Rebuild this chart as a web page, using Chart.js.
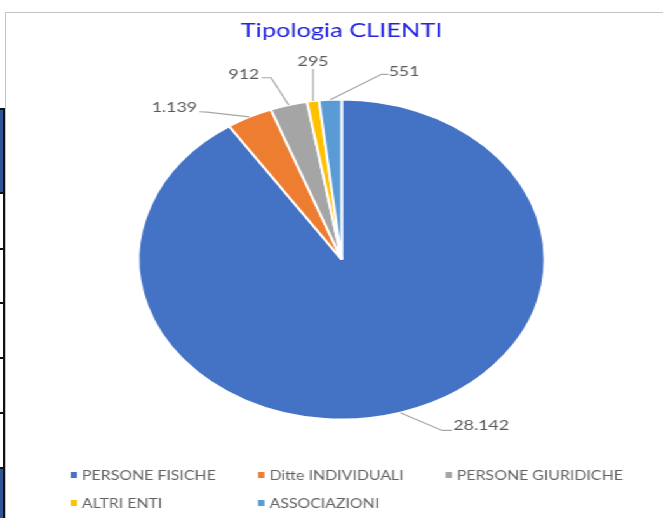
<!DOCTYPE html>
<html><head><meta charset="utf-8">
<script src="https://cdn.jsdelivr.net/npm/chart.js@4"></script>
<style>
html,body{margin:0;padding:0;background:#fff;width:663px;height:518px;overflow:hidden;position:relative}
#frame{position:absolute;left:5px;top:12px;width:700px;height:600px;border-left:1.5px solid #c4c4c4;border-top:1.5px solid #c4c4c4;box-sizing:border-box}
#wrap{position:absolute;left:6.5px;top:13.5px;width:527px;height:505px;transform:scaleX(1.27);transform-origin:0 0;background:#fff}
.tb{position:absolute;left:0;width:3.2px;background:#2f5597}
.hl{position:absolute;left:0;width:4.5px;height:2px;background:#111}
#vl{position:absolute;left:3px;width:1.5px;top:109px;height:409px;background:#111}
</style></head><body>
<div class="tb" style="top:109px;height:84px"></div>
<div class="tb" style="top:468px;height:50px"></div>
<div id="vl"></div>
<div class="hl" style="top:108px"></div>
<div class="hl" style="top:192px"></div>
<div class="hl" style="top:248px"></div>
<div class="hl" style="top:302px"></div>
<div class="hl" style="top:357px"></div>
<div class="hl" style="top:412px"></div>
<div class="hl" style="top:467px"></div>
<div id="frame"></div>
<div id="wrap"><canvas id="c" width="527" height="505"></canvas></div>
<script>
const categories = ['PERSONE FISICHE', 'Ditte INDIVIDUALI', 'PERSONE GIURIDICHE', 'ALTRI ENTI', 'ASSOCIAZIONI'];
const clientCounts = [28142, 1139, 912, 295, 551];
const sliceColors = ['#4472C4', '#ED7D31', '#A5A5A5', '#FFC000', '#5B9BD5'];
const chartTitle = 'Tipologia CLIENTI';

// leader-line / label placement relative to each slice's outer mid point
const labelLayout = [
  {elbow: [32.8, 17.8], end: [40.5, 17.8], text: [41.7, 12.5], align: 'left'},
  {elbow: [-33.4, -4.9], end: [-39.5, -5.2], text: [-41.2, -10], align: 'right'},
  {elbow: [-13.9, -27.3], end: [-21.3, -27.3], text: [-23.2, -30.7], align: 'right'},
  {elbow: [0, -32], end: [0, -32], text: [0, -40], align: 'center'},
  {elbow: [40.2, -25.4], end: [45.7, -25.4], text: [45.9, -28.7], align: 'left'}
];

function fmt(v) { return String(v).replace(/\B(?=(\d{3})+(?!\d))/g, '.'); }

const pieLabels = {
  id: 'pieLabels',
  afterDatasetsDraw(chart) {
    const ctx = chart.ctx;
    const meta = chart.getDatasetMeta(0);
    ctx.save();
    meta.data.forEach((arc, i) => {
      const p = arc.getProps(['x', 'y', 'startAngle', 'endAngle', 'outerRadius'], true);
      const mid = (p.startAngle + p.endAngle) / 2;
      const ax = p.x + Math.cos(mid) * p.outerRadius;
      const ay = p.y + Math.sin(mid) * p.outerRadius;
      const L = labelLayout[i];
      ctx.strokeStyle = '#a6a6a6';
      ctx.lineWidth = 1.2;
      ctx.beginPath();
      ctx.moveTo(ax, ay);
      ctx.lineTo(ax + L.elbow[0], ay + L.elbow[1]);
      ctx.lineTo(ax + L.end[0], ay + L.end[1]);
      ctx.stroke();
      ctx.font = '14px Lato';
      ctx.fillStyle = '#595959';
      ctx.textAlign = L.align;
      ctx.textBaseline = 'alphabetic';
      ctx.fillText(fmt(clientCounts[i]), ax + L.text[0], ay + L.text[1] + 0.36 * 14);
    });
    ctx.restore();
  }
};

const gridLegend = {
  id: 'gridLegend',
  afterDraw(chart) {
    const ctx = chart.ctx;
    ctx.save();
    ctx.font = '12.5px Lato';
    const boxW = 5, boxH = 6, gap = 9, pitch = 147.6, cols = 3;
    const a = chart.chartArea;
    const rowsY = [a.bottom + 54.5, a.bottom + 82.5];
    const widths = categories.map(c => gap + ctx.measureText(c).width);
    const lastColW = Math.max(...widths.filter((w, i) => i % cols === cols - 1));
    const total = (cols - 1) * pitch + lastColW;
    const left = (a.left + a.right) / 2 - total / 2 + 4;
    categories.forEach((c, i) => {
      const col = i % cols, row = Math.floor(i / cols);
      const x = left + col * pitch, y = rowsY[row];
      ctx.fillStyle = sliceColors[i];
      ctx.fillRect(x, y - boxH / 2, boxW, boxH);
      ctx.fillStyle = '#636363';
      ctx.textAlign = 'left';
      ctx.textBaseline = 'middle';
      ctx.fillText(c, x + gap, y + 0.5);
    });
    ctx.restore();
  }
};

new Chart(document.getElementById('c'), {
  type: 'pie',
  data: {
    labels: categories,
    datasets: [{
      data: clientCounts,
      backgroundColor: sliceColors,
      borderColor: '#ffffff',
      borderWidth: 2,
      hoverOffset: 0,
      offset: 0
    }]
  },
  options: {
    responsive: false,
    animation: false,
    devicePixelRatio: 1,
    layout: {padding: {left: 0, right: 0, top: 0, bottom: 98.5}},
    plugins: {
      legend: {display: false},
      tooltip: {enabled: false},
      title: {
        display: true,
        text: chartTitle,
        color: '#2323e0',
        font: {family: 'Lato', size: 20, weight: 'normal'},
        padding: {top: 5, bottom: 55.5}
      }
    }
  },
  plugins: [pieLabels, gridLegend]
});
</script>
</body></html>
